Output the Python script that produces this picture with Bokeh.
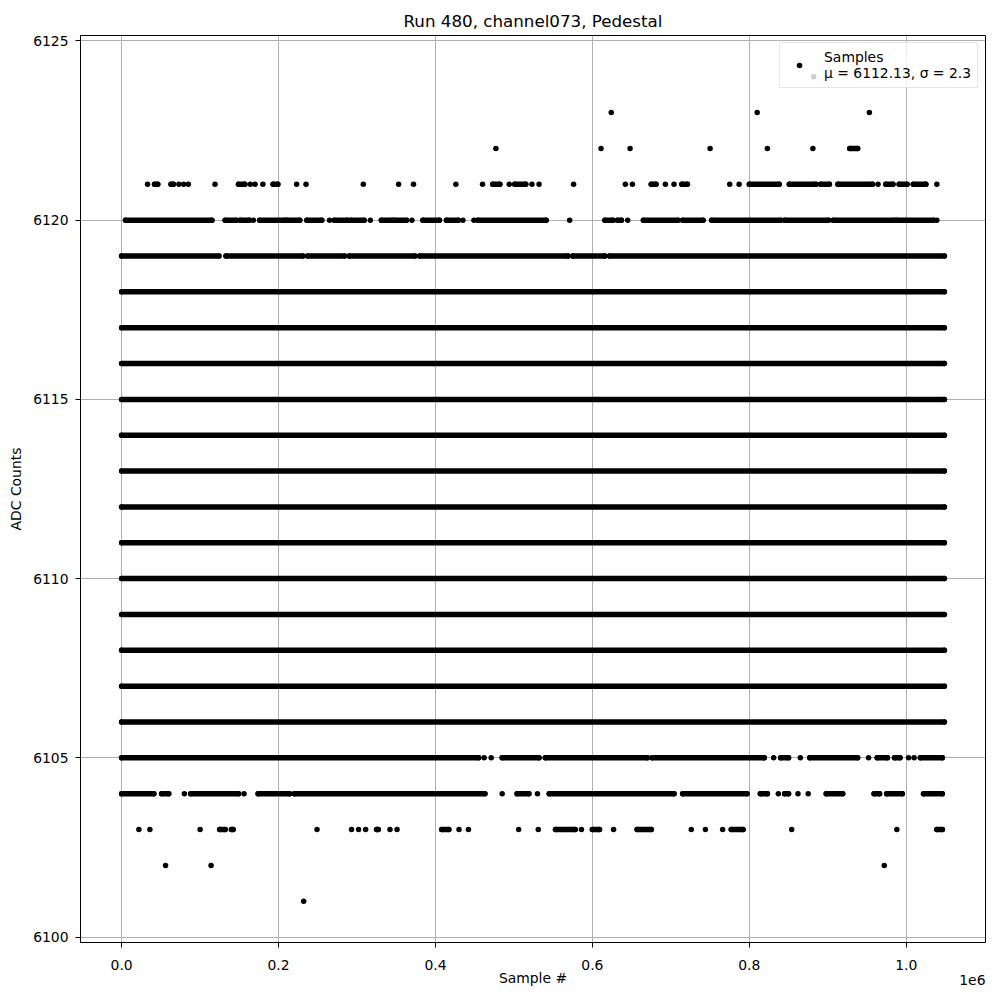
from bokeh.plotting import figure
from bokeh.models import (Range1d, FixedTicker, CustomJSTickFormatter, Legend, LegendItem,
                          Title, ColumnDataSource)
from bokeh.embed import file_html
from bokeh.resources import INLINE

# ---------------- data ----------------
title_text = "Run 480, channel073, Pedestal"
x_label = "Sample #"
y_label = "ADC Counts"
x_offset_text = "1e6"
legend_text = "Samples\nμ = 6112.13, σ = 2.3"

x_ticks = [0, 200000, 400000, 600000, 800000, 1000000]
y_ticks = [6100, 6105, 6110, 6115, 6120, 6125]

first_sample = 0
last_sample = 1048575

# ADC levels that are hit all along the run (drawn as a continuous band of samples)
dense_levels = [6106, 6107, 6108, 6109, 6110, 6111, 6112, 6113, 6114, 6115, 6116, 6117, 6118]

# Runs of samples [start, end] for the less populated levels (single samples: start == end)
runs_6124 = [[882000, 882000]]
runs_6123 = [[624000, 624000], [810000, 810000], [953000, 953000]]
runs_6122 = [[477000, 477000], [611000, 611000], [648000, 648000], [750000, 750000],
             [823000, 823000], [881000, 881000], [928000, 938000]]
runs_6121 = [[33000, 33000], [42000, 46000], [63000, 66000], [73000, 73000], [79000, 79000],
             [85000, 85000], [119000, 119000], [149000, 157000], [164000, 164000],
             [170000, 170000], [180000, 180000], [193000, 199000], [223000, 223000],
             [235000, 235000], [308000, 308000], [353000, 353000], [372000, 372000],
             [426000, 426000], [460000, 460000], [473000, 482000], [494000, 494000],
             [501000, 515000], [523000, 523000], [532000, 532000], [576000, 576000],
             [642000, 642000], [651000, 651000], [675000, 681000], [693000, 693000],
             [704000, 704000], [714000, 721000], [775000, 775000], [787000, 787000],
             [800000, 838000], [851000, 885000], [891000, 902000], [913000, 957000],
             [964000, 964000], [974000, 983000], [991000, 1001000], [1009000, 1025000],
             [1039000, 1039000]]
runs_6120 = [[5000, 115000], [132000, 146000], [151000, 163000], [168000, 168000],
             [176000, 208000], [211000, 227000], [236000, 255000], [265000, 265000],
             [271000, 288000], [292000, 309000], [317000, 317000], [331000, 345000],
             [348000, 363000], [370000, 370000], [384000, 405000], [414000, 429000],
             [435000, 435000], [449000, 449000], [454000, 541000], [571000, 571000],
             [616000, 626000], [632000, 637000], [645000, 645000], [665000, 709000],
             [715000, 741000], [752000, 840000], [845000, 901000], [907000, 984000],
             [987000, 1035000], [1039000, 1039000]]
runs_6119 = [[0, 124000], [133000, 231000], [237000, 284000], [290000, 374000],
             [380000, 569000], [575000, 616000], [622000, 1048575]]
runs_6105 = [[0, 455000], [462000, 462000], [471000, 471000], [485000, 532000],
             [540000, 670000], [676000, 819000], [831000, 831000], [840000, 850000],
             [865000, 865000], [877000, 938000], [952000, 952000], [963000, 976000],
             [985000, 992000], [1003000, 1003000], [1010000, 1010000], [1018000, 1046000]]
runs_6104 = [[0, 41000], [51000, 60000], [80000, 80000], [88000, 149000], [156000, 156000],
             [174000, 214000], [220000, 463000], [485000, 485000], [504000, 519000],
             [530000, 530000], [545000, 704000], [715000, 797000], [814000, 823000],
             [837000, 837000], [845000, 850000], [862000, 862000], [875000, 875000],
             [898000, 919000], [959000, 966000], [975000, 995000], [1022000, 1046000]]
runs_6103 = [[22000, 22000], [36000, 36000], [100000, 100000], [125000, 132000],
             [140000, 142000], [249000, 249000], [293000, 293000], [302000, 302000],
             [311000, 311000], [325000, 327000], [342000, 342000], [351000, 351000],
             [408000, 417000], [430000, 430000], [442000, 442000], [506000, 506000],
             [531000, 531000], [553000, 578000], [586000, 586000], [600000, 609000],
             [627000, 627000], [657000, 675000], [726000, 726000], [744000, 744000],
             [766000, 766000], [777000, 792000], [854000, 854000], [988000, 988000],
             [1039000, 1046000]]
runs_6102 = [[56000, 56000], [114000, 114000], [972000, 972000]]
runs_6101 = [[232000, 232000]]

sparse_rows = {6124: runs_6124, 6123: runs_6123, 6122: runs_6122, 6121: runs_6121,
               6120: runs_6120, 6119: runs_6119, 6105: runs_6105, 6104: runs_6104,
               6103: runs_6103, 6102: runs_6102, 6101: runs_6101}

# ------------- build sources -------------
seg_x0, seg_x1, seg_y = [], [], []
pt_x, pt_y = [], []
for lvl in dense_levels:
    seg_x0.append(first_sample); seg_x1.append(last_sample); seg_y.append(lvl)
    pt_x += [first_sample, last_sample]; pt_y += [lvl, lvl]
for lvl, runs in sparse_rows.items():
    for a, b in runs:
        if b > a:
            seg_x0.append(a); seg_x1.append(b); seg_y.append(lvl)
            pt_x += [a, b]; pt_y += [lvl, lvl]
        else:
            pt_x.append(a); pt_y.append(lvl)

seg_src = ColumnDataSource(dict(x0=seg_x0, x1=seg_x1, y=seg_y))
pt_src = ColumnDataSource(dict(x=pt_x, y=pt_y))

all_levels = dense_levels + list(sparse_rows.keys())
y_min, y_max = min(all_levels), max(all_levels)
x_pad = 0.05 * (last_sample - first_sample)
y_pad = 0.05 * (y_max - y_min)

FONT = "DejaVu Sans"
MS = 5.5

p = figure(width=992, height=992, output_backend="svg", toolbar_location=None,
           x_range=Range1d(first_sample - x_pad, last_sample + x_pad),
           y_range=Range1d(y_min - y_pad, y_max + y_pad),
           min_border_left=80, min_border_right=7, min_border_top=35, min_border_bottom=50)

p.title.text = title_text
p.title.align = "center"
p.title.text_font = FONT
p.title.text_font_size = "16.7px"
p.title.text_font_style = "normal"
p.title.text_color = "black"
p.title.standoff = 10

p.segment(x0="x0", y0="y", x1="x1", y1="y", source=seg_src, line_color="black",
          line_width=MS, line_cap="round")
r_pts = p.scatter(x="x", y="y", source=pt_src, size=MS, fill_color="black", line_color=None)

for ax in (p.xaxis, p.yaxis):
    ax.axis_line_color = "black"
    ax.major_tick_line_color = "black"
    ax.major_tick_out = 5
    ax.major_tick_in = 0
    ax.minor_tick_line_color = None
    ax.major_label_text_font = FONT
    ax.major_label_text_font_size = "13.9px"
    ax.major_label_text_color = "black"
    ax.axis_label_text_font = FONT
    ax.axis_label_text_font_size = "13.9px"
    ax.axis_label_text_font_style = "normal"
    ax.axis_label_text_color = "black"

p.xaxis.ticker = FixedTicker(ticks=x_ticks)
p.xaxis.formatter = CustomJSTickFormatter(code="return (tick/1e6).toFixed(1);")
p.yaxis.ticker = FixedTicker(ticks=y_ticks)
p.xaxis.axis_label = x_label
p.yaxis.axis_label = y_label
p.xaxis.major_label_standoff = 12
p.xaxis.axis_label_standoff = -3
p.yaxis.major_label_standoff = 7
p.yaxis.axis_label_standoff = 6

p.outline_line_color = "black"
p.outline_line_width = 1
p.outline_line_alpha = 1
p.grid.grid_line_color = "#b0b0b0"
p.grid.grid_line_width = 1
p.background_fill_color = "white"
p.border_fill_color = "white"

# scale factor text of the x axis, at the right end below the axis
offset_title = Title(text=x_offset_text, align="right", vertical_align="top", standoff=-28,
                     text_font=FONT, text_font_size="13.9px", text_font_style="normal",
                     text_color="black")
p.add_layout(offset_title, "below")

legend = Legend(items=[LegendItem(label=legend_text, renderers=[r_pts])],
                location="top_right", margin=7, padding=6, glyph_width=26, glyph_height=14,
                label_standoff=12, label_text_font=FONT, label_text_font_size="13.9px",
                label_text_color="black", border_line_color="#cccccc",
                background_fill_alpha=0.8, spacing=0)
p.add_layout(legend)

open("out.html", "w").write(file_html(p, INLINE))
